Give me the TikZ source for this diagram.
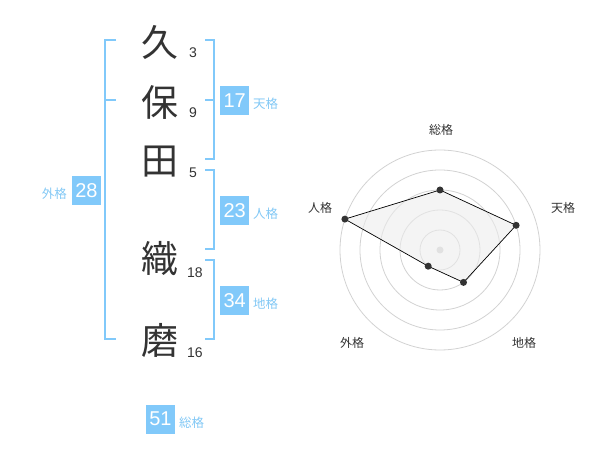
\documentclass[tikz,border=0pt]{standalone}
\usepackage{fontspec}
\setmainfont{Liberation Sans}
\newfontfamily\cjk{Noto Sans CJK JP}
\definecolor{blu}{RGB}{129,201,250}
\definecolor{lblc}{RGB}{130,200,245}
\definecolor{ink}{RGB}{51,51,51}
\definecolor{ring}{RGB}{210,210,210}
\begin{document}
\begin{tikzpicture}[x=1pt,y=-1pt,
  kanji/.style={inner sep=0pt,text=ink,font=\cjk\fontsize{37}{37}\selectfont},
  num/.style={inner sep=0pt,text=ink,font=\fontsize{14}{14}\selectfont},
  bx/.style={fill=blu,text=white,minimum size=29pt,inner sep=0pt,font=\fontsize{20}{20}\selectfont},
  blbl/.style={inner sep=0pt,text=lblc,font=\cjk\fontsize{12.5}{12.5}\selectfont},
  brk/.style={draw=blu,line width=2pt},
  rlbl/.style={inner sep=0pt,text=ink,font=\cjk\fontsize{12}{12}\selectfont},
  dot/.style={circle,fill=ink,inner sep=0pt,minimum size=7pt},
]
\useasboundingbox (0,0) rectangle (600,470);
% characters
\node[kanji] (k1) at (160,42) {久};
\node[kanji] (k2) at (160,102) {保};
\node[kanji] (k3) at (160,162) {田};
\node[kanji] (k4) at (160,259) {織};
\node[kanji] (k5) at (160,340) {磨};
\node[num] (n1) at (193,53) {3};
\node[num] (n2) at (193,113) {9};
\node[num] (n3) at (193,173) {5};
\node[num] (n4) at (195,273) {18};
\node[num] (n5) at (195,353) {16};
% left bracket
\coordinate (L1) at (116,40); \coordinate (L2) at (105,40);
\coordinate (L3) at (105,339); \coordinate (L4) at (116,339);
\coordinate (Lm1) at (105,100); \coordinate (Lm2) at (116,100);
\draw[brk] (L1) -- (L2) -- (L3) -- (L4);
\draw[brk] (Lm1) -- (Lm2);
% right brackets
\coordinate (A1) at (205,40); \coordinate (A2) at (214,40);
\coordinate (A3) at (214,159); \coordinate (A4) at (205,159);
\coordinate (Am1) at (205,100); \coordinate (Am2) at (214,100);
\draw[brk] (A1) -- (A2) -- (A3) -- (A4);
\draw[brk] (Am1) -- (Am2);
\coordinate (B1) at (205,170); \coordinate (B2) at (214,170);
\coordinate (B3) at (214,249); \coordinate (B4) at (205,249);
\draw[brk] (B1) -- (B2) -- (B3) -- (B4);
\coordinate (C1) at (205,260); \coordinate (C2) at (214,260);
\coordinate (C3) at (214,339); \coordinate (C4) at (205,339);
\draw[brk] (C1) -- (C2) -- (C3) -- (C4);
% boxes
\node[bx] (b17) at (234.7,100.5) {17};
\node[blbl,anchor=west] (t17) at (253,104) {天格};
\node[bx] (b23) at (234.7,210.5) {23};
\node[blbl,anchor=west] (t23) at (253,214) {人格};
\node[bx] (b34) at (234.7,300.5) {34};
\node[blbl,anchor=west] (t34) at (253,304) {地格};
\node[bx] (b28) at (86.5,190.5) {28};
\node[blbl,anchor=east] (t28) at (67,194) {外格};
\node[bx] (b51) at (160.5,419) {51};
\node[blbl,anchor=west] (t51) at (179,422.5) {総格};
% radar
\coordinate (c) at (440,250);
\foreach \r in {20,40,60,80,100} \draw[ring,line width=0.8pt] (c) circle[radius=\r pt];
\fill[ring] (c) circle[radius=3.5pt];
\coordinate (p1) at (440,190);
\coordinate (p2) at (516.1,225.3);
\coordinate (p3) at (463.5,282.4);
\coordinate (p4) at (428.2,266.2);
\coordinate (p5) at (344.9,219.1);
\fill[gray!15,opacity=0.6] (p1) -- (p2) -- (p3) -- (p4) -- (p5) -- cycle;
\draw[black,line width=0.7pt] (p1) -- (p2) -- (p3) -- (p4) -- (p5) -- cycle;
\foreach \p in {p1,p2,p3,p4,p5} \node[dot] at (\p) {};
\node[rlbl] (r1) at (441,130) {総格};
\node[rlbl] (r2) at (563,208) {天格};
\node[rlbl] (r3) at (524,343) {地格};
\node[rlbl] (r4) at (352,343) {外格};
\node[rlbl] (r5) at (320,208) {人格};
\end{tikzpicture}
\end{document}
